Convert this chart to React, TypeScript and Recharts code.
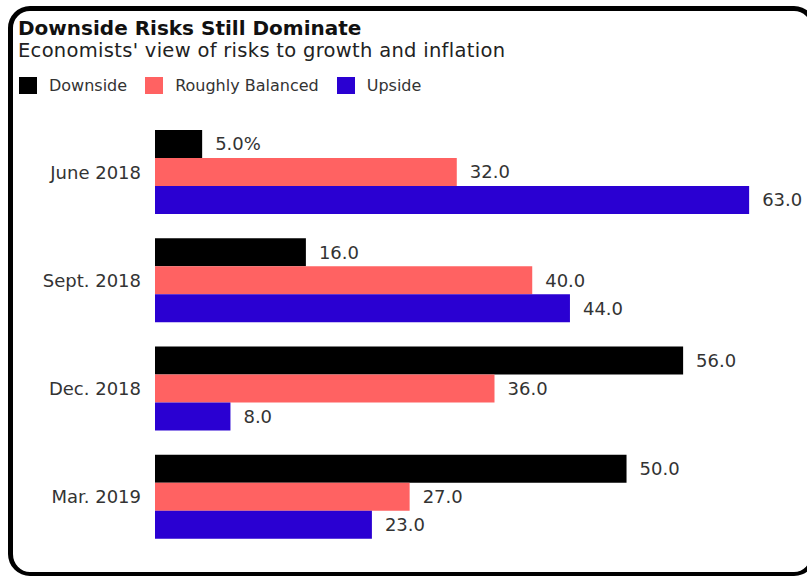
import { BarChart, Bar, XAxis, YAxis, LabelList } from 'recharts';

const periods = ['June 2018', 'Sept. 2018', 'Dec. 2018', 'Mar. 2019'];
const downside = [5, 16, 56, 50];
const balanced = [32, 40, 36, 27];
const upside = [63, 44, 8, 23];

const series = [
  { key: 'downside', name: 'Downside', color: '#000000', values: downside },
  { key: 'balanced', name: 'Roughly Balanced', color: '#ff6262', values: balanced },
  { key: 'upside', name: 'Upside', color: '#2a00d2', values: upside },
];

const data = periods.map((period, i) => {
  const row: Record<string, string | number> = { period };
  series.forEach((s) => {
    row[s.key] = s.values[i];
  });
  return row;
});

const FONT = '"DejaVu Sans", sans-serif';

// value label to the right of each bar; the very first one carries the % sign
const valueLabel = (withPercent: boolean) => (props: any) => {
  const { x, y, width, height, value, index } = props;
  const num = Number(value).toFixed(1);
  const text = withPercent && index === 0 ? `${num}%` : num;
  return (
    <text
      x={Number(x) + Number(width) + 13}
      y={Number(y) + Number(height) / 2}
      dy="0.355em"
      fontSize={18}
      fill="#333"
      fontFamily={FONT}
    >
      {text}
    </text>
  );
};

export default function App() {
  return (
    <div
      style={{
        position: 'absolute',
        left: 0,
        top: 0,
        width: 807,
        height: 577,
        overflow: 'hidden',
        background: '#fff',
        fontFamily: FONT,
      }}
    >
      <div
        style={{
          position: 'absolute',
          left: 8,
          top: 6,
          width: 808,
          height: 570,
          boxSizing: 'border-box',
          border: '5px solid #000',
          borderBottomWidth: 4,
          borderRadius: 22,
        }}
      />
      <div
        style={{
          position: 'absolute',
          left: 18,
          top: 19,
          fontSize: 20,
          lineHeight: '18px',
          fontWeight: 'bold',
          color: '#111',
          whiteSpace: 'nowrap',
        }}
      >
        Downside Risks Still Dominate
      </div>
      <div
        style={{
          position: 'absolute',
          left: 18,
          top: 42,
          fontSize: 19.5,
          lineHeight: '18px',
          letterSpacing: 0.3,
          color: '#222',
          whiteSpace: 'nowrap',
        }}
      >
        Economists' view of risks to growth and inflation
      </div>
      <div
        style={{
          position: 'absolute',
          left: 19,
          top: 77,
          display: 'flex',
          alignItems: 'center',
          fontSize: 16,
          lineHeight: '17px',
          color: '#333',
          whiteSpace: 'nowrap',
        }}
      >
        {series.map((s) => (
          <div key={s.key} style={{ display: 'flex', alignItems: 'center', marginRight: 18 }}>
            <span style={{ width: 18, height: 17, background: s.color, marginRight: 12 }} />
            <span>{s.name}</span>
          </div>
        ))}
      </div>
      <div style={{ position: 'absolute', left: 0, top: 0 }}>
        <BarChart
          width={807}
          height={577}
          data={data}
          layout="vertical"
          margin={{ top: 118, right: 39, bottom: 26, left: 10 }}
          barCategoryGap={12}
          barGap={0}
        >
          <XAxis type="number" domain={[0, 65]} hide />
          <YAxis
            type="category"
            dataKey="period"
            width={145}
            axisLine={false}
            tickLine={false}
            tickSize={0}
            tickMargin={14}
            tick={{ fill: '#333', fontSize: 18, fontFamily: FONT }}
          />
          {series.map((s, si) => (
            <Bar key={s.key} dataKey={s.key} name={s.name} fill={s.color} isAnimationActive={false}>
              <LabelList dataKey={s.key} content={valueLabel(si === 0)} />
            </Bar>
          ))}
        </BarChart>
      </div>
    </div>
  );
}
